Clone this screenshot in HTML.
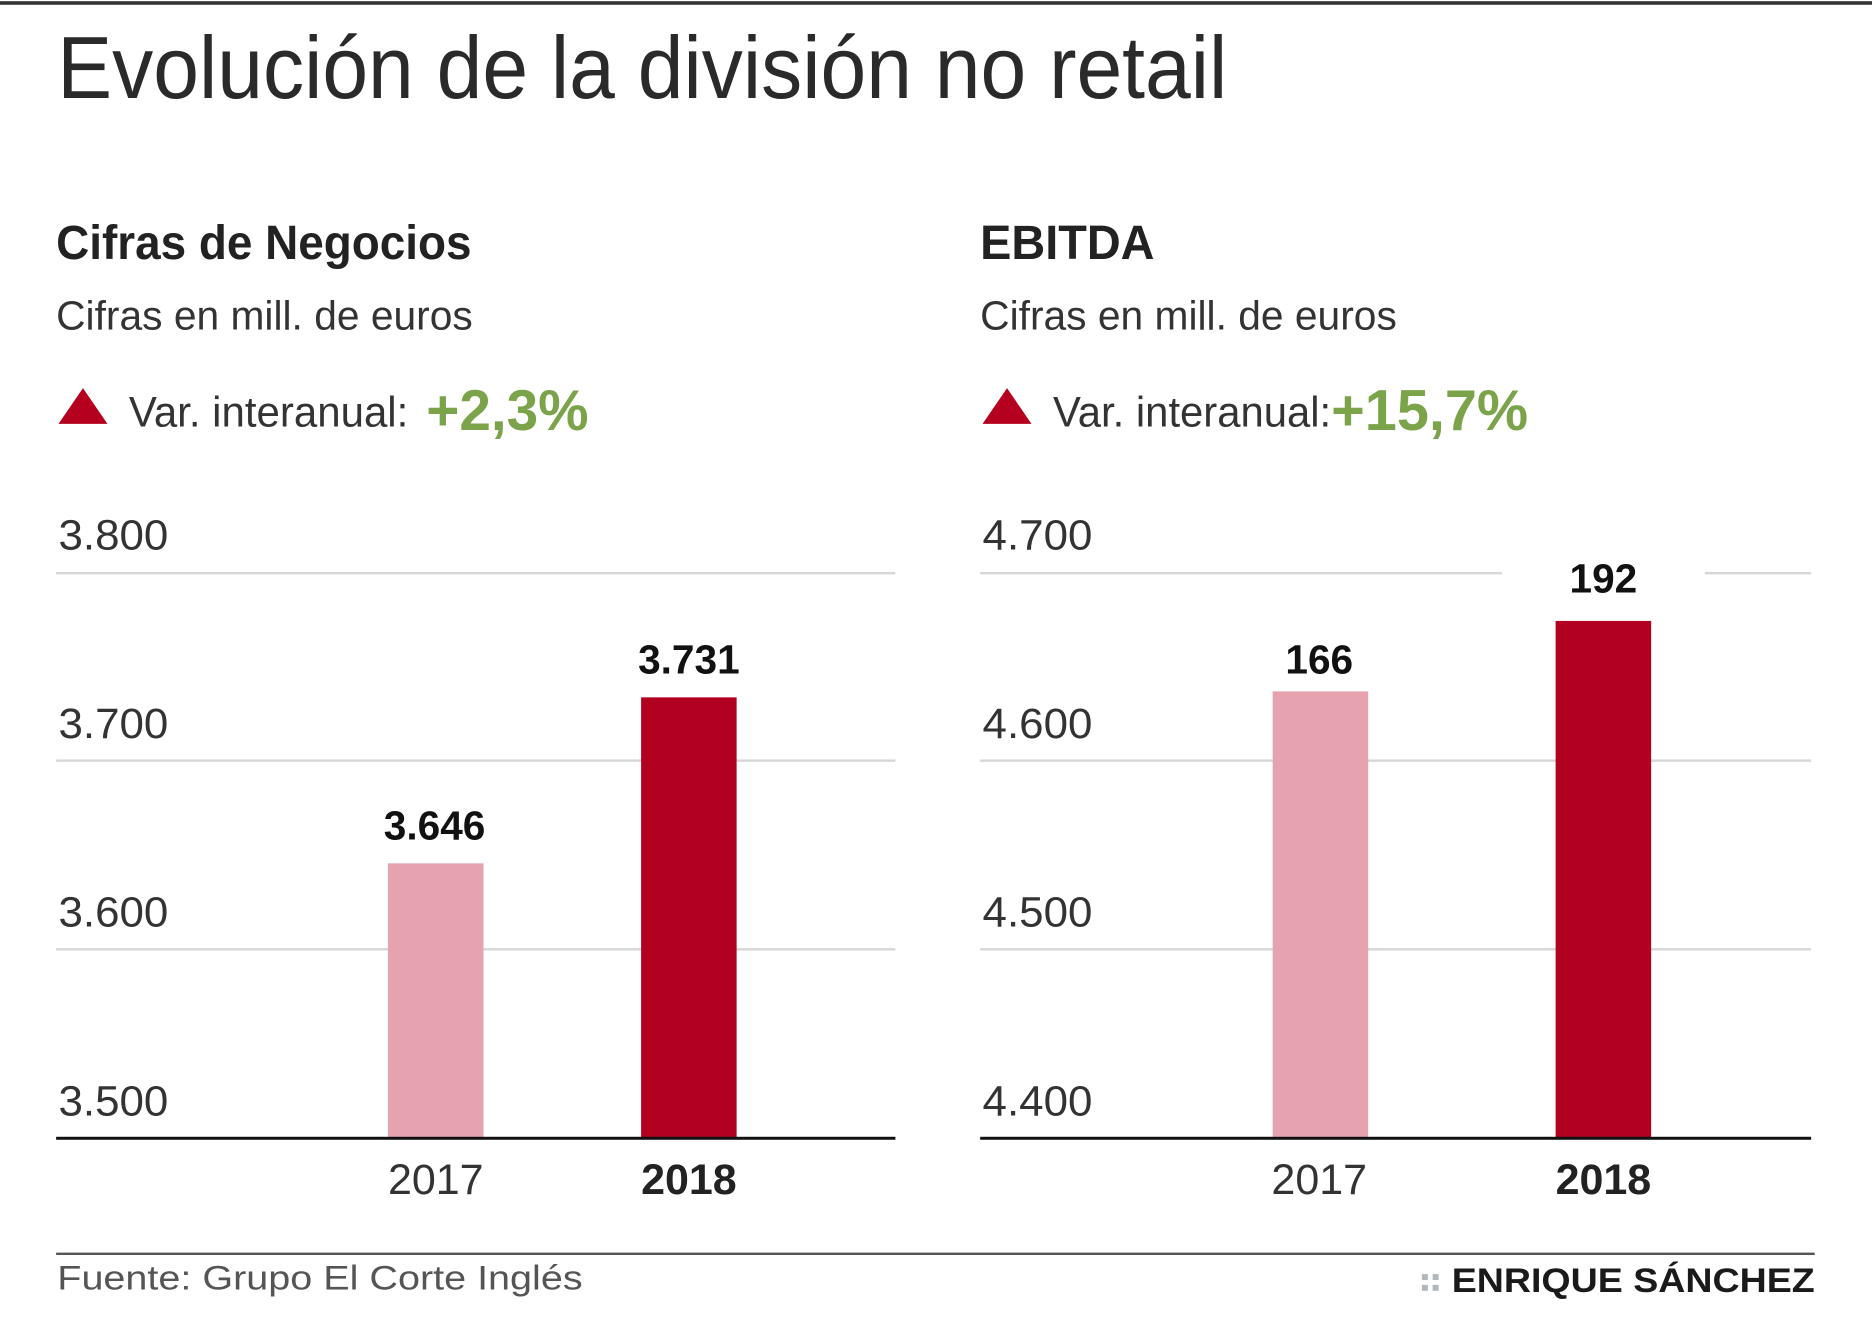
<!DOCTYPE html>
<html><head><meta charset="utf-8"><style>
html,body{margin:0;padding:0;background:#fff;}
svg{display:block;}
text{font-family:"Liberation Sans Narrow","Liberation Sans",sans-serif;}
</style></head><body>
<svg width="1872" height="1335" viewBox="0 0 1568 1118" preserveAspectRatio="none" xmlns="http://www.w3.org/2000/svg">
<rect width="1568" height="1118" fill="#fff"/>
<rect x="0" y="1" width="1568" height="3" fill="#333"/>
<text x="48" y="82" font-size="74" fill="#2a2a2a" textLength="980" lengthAdjust="spacingAndGlyphs">Evolución de la división no retail</text>

<!-- LEFT -->
<text x="47" y="217" font-size="40" font-weight="bold" fill="#222" textLength="348" lengthAdjust="spacingAndGlyphs">Cifras de Negocios</text>
<text x="47" y="276" font-size="34" fill="#333" textLength="349" lengthAdjust="spacingAndGlyphs">Cifras en mill. de euros</text>
<polygon points="49,355 90,355 69.5,325" fill="#b5001f"/>
<text x="108" y="357" font-size="36" fill="#333" textLength="234" lengthAdjust="spacingAndGlyphs">Var. interanual:</text>
<text x="357" y="360" font-size="48" font-weight="bold" fill="#7ba34a" textLength="136" lengthAdjust="spacingAndGlyphs">+2,3%</text>

<g fill="#d6d6d6">
<rect x="47" y="479" width="703" height="2"/>
<rect x="47" y="636" width="703" height="2"/>
<rect x="47" y="794" width="703" height="2"/>
</g>
<g font-size="36" fill="#333">
<text x="49" y="460" textLength="92" lengthAdjust="spacingAndGlyphs">3.800</text>
<text x="49" y="618" textLength="92" lengthAdjust="spacingAndGlyphs">3.700</text>
<text x="49" y="776" textLength="92" lengthAdjust="spacingAndGlyphs">3.600</text>
<text x="49" y="934" textLength="92" lengthAdjust="spacingAndGlyphs">3.500</text>
</g>
<rect x="325" y="723" width="80" height="230" fill="#e6a3af"/>
<rect x="537" y="584" width="80" height="369" fill="#b20020"/>
<rect x="47" y="952" width="703" height="2.5" fill="#111"/>
<g font-size="34" font-weight="bold" fill="#111" text-anchor="middle">
<text x="364" y="703">3.646</text>
<text x="577" y="564">3.731</text>
</g>
<text x="365" y="1000" font-size="36" fill="#333" text-anchor="middle">2017</text>
<text x="577" y="1000" font-size="36" font-weight="bold" fill="#222" text-anchor="middle">2018</text>

<!-- RIGHT -->
<text x="821" y="217" font-size="40" font-weight="bold" fill="#222" textLength="146" lengthAdjust="spacingAndGlyphs">EBITDA</text>
<text x="821" y="276" font-size="34" fill="#333" textLength="349" lengthAdjust="spacingAndGlyphs">Cifras en mill. de euros</text>
<polygon points="823,355 864,355 843.5,325" fill="#b5001f"/>
<text x="882" y="357" font-size="36" fill="#333" textLength="233" lengthAdjust="spacingAndGlyphs">Var. interanual:</text>
<text x="1115" y="360" font-size="48" font-weight="bold" fill="#7ba34a" textLength="165" lengthAdjust="spacingAndGlyphs">+15,7%</text>

<g fill="#d6d6d6">
<rect x="821" y="479" width="437" height="2"/>
<rect x="1428" y="479" width="89" height="2"/>
<rect x="821" y="636" width="696" height="2"/>
<rect x="821" y="794" width="696" height="2"/>
</g>
<g font-size="36" fill="#333">
<text x="823" y="460" textLength="92" lengthAdjust="spacingAndGlyphs">4.700</text>
<text x="823" y="618" textLength="92" lengthAdjust="spacingAndGlyphs">4.600</text>
<text x="823" y="776" textLength="92" lengthAdjust="spacingAndGlyphs">4.500</text>
<text x="823" y="934" textLength="92" lengthAdjust="spacingAndGlyphs">4.400</text>
</g>
<rect x="1066" y="579" width="80" height="374" fill="#e6a3af"/>
<rect x="1303" y="520" width="80" height="433" fill="#b20020"/>
<rect x="821" y="952" width="696" height="2.5" fill="#111"/>
<g font-size="34" font-weight="bold" fill="#111" text-anchor="middle">
<text x="1105" y="564">166</text>
<text x="1343" y="496">192</text>
</g>
<text x="1105" y="1000" font-size="36" fill="#333" text-anchor="middle">2017</text>
<text x="1343" y="1000" font-size="36" font-weight="bold" fill="#222" text-anchor="middle">2018</text>

<!-- FOOTER -->
<rect x="47" y="1049" width="1473" height="2" fill="#555"/>
<text x="48" y="1080" font-size="29" fill="#555" style="font-family:'Liberation Sans',sans-serif" textLength="440" lengthAdjust="spacingAndGlyphs">Fuente: Grupo El Corte Inglés</text>
<g fill="#b0b8bc">
<rect x="1191" y="1067" width="5" height="5"/><rect x="1200" y="1067" width="5" height="5"/>
<rect x="1191" y="1076" width="5" height="5"/><rect x="1200" y="1076" width="5" height="5"/>
</g>
<text x="1216" y="1082" font-size="29" font-weight="bold" fill="#1a1a1a" style="font-family:'Liberation Sans',sans-serif" textLength="304" lengthAdjust="spacingAndGlyphs">ENRIQUE SÁNCHEZ</text>
</svg>
</body></html>
